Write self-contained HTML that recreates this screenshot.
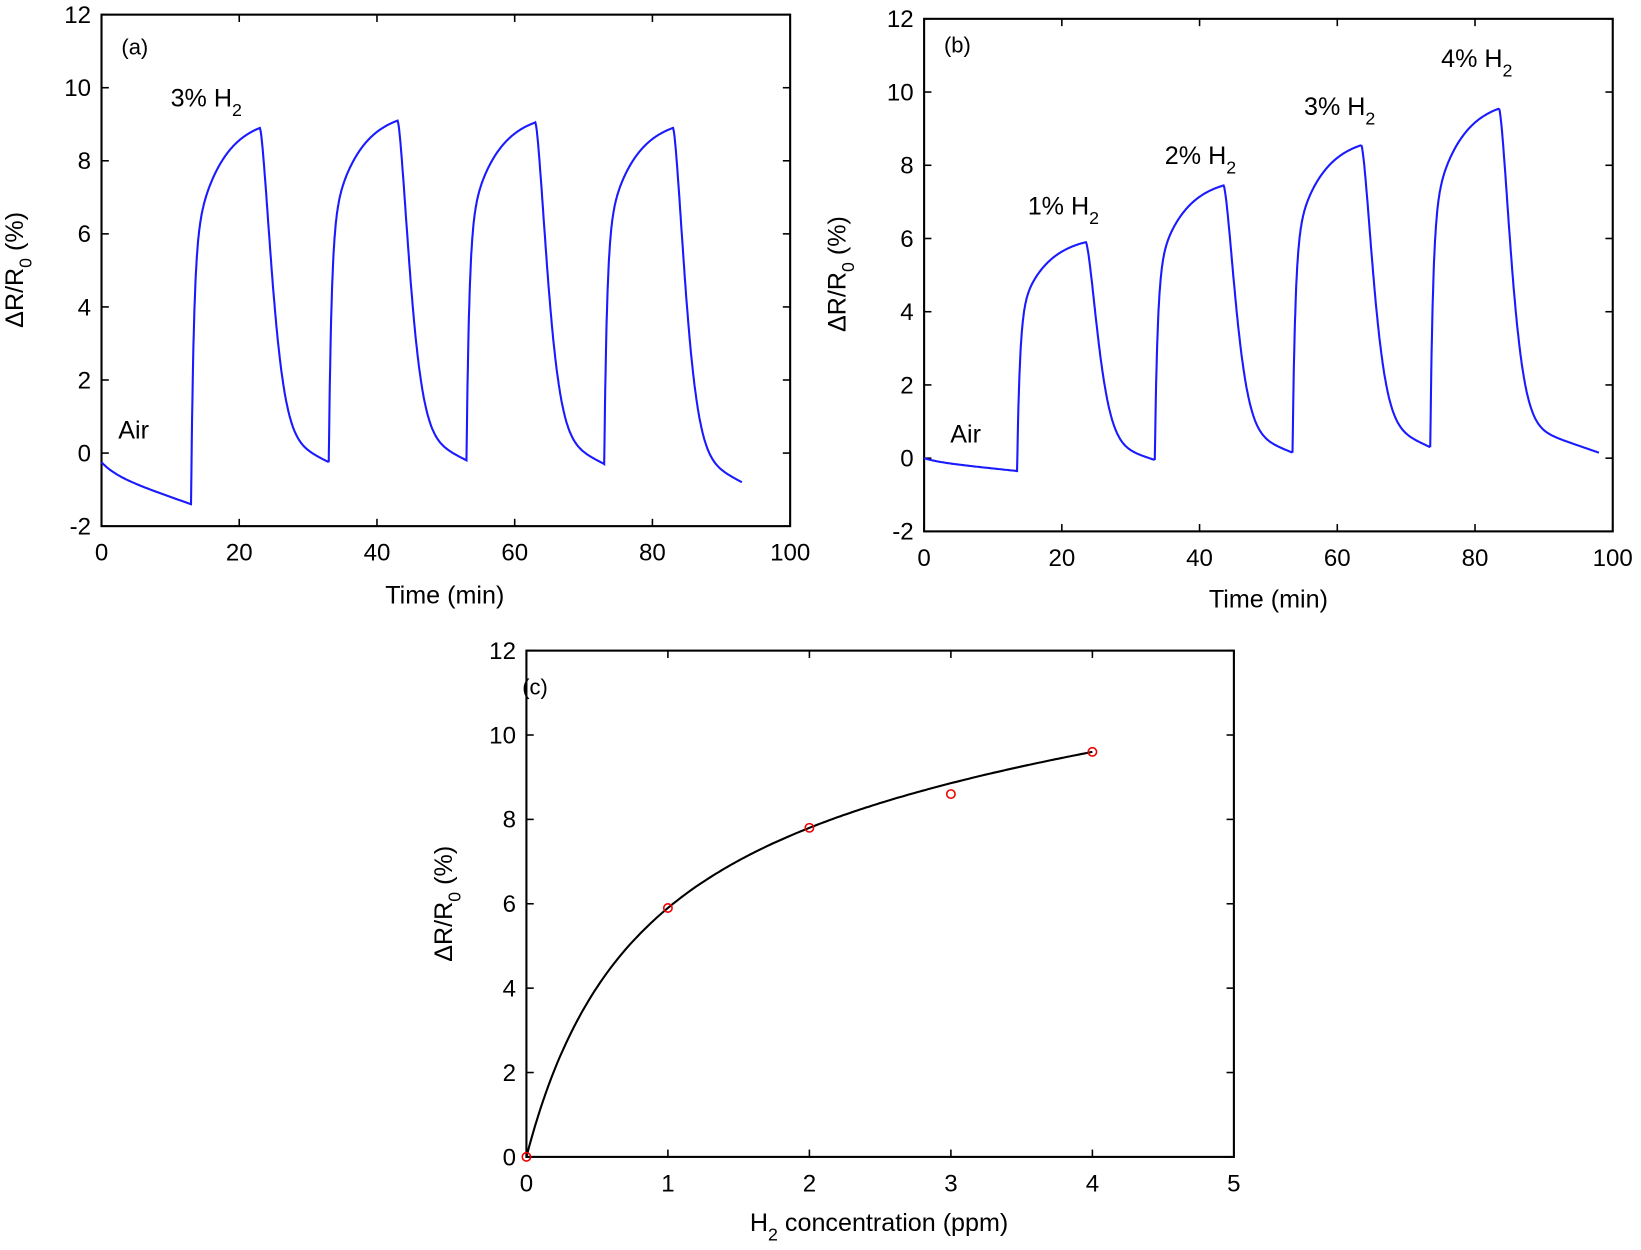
<!DOCTYPE html>
<html><head><meta charset="utf-8"><style>
html,body{margin:0;padding:0;background:#fff;}
svg{display:block;}
text{font-family:"Liberation Sans",Arial,sans-serif;fill:#000;}
</style></head><body>
<svg id="s" width="1641" height="1250" viewBox="0 0 1568 1195" preserveAspectRatio="none" xmlns="http://www.w3.org/2000/svg">
<rect width="1568" height="1195" fill="#fff"/>
<g id="g"></g>
</svg>
<script>
const NS="http://www.w3.org/2000/svg";const G=document.getElementById('g');
function el(t,a,txt){const e=document.createElementNS(NS,t);for(const k in a)e.setAttribute(k,a[k]);if(txt!==undefined)e.textContent=txt;G.appendChild(e);return e;}
function axes(L,R,T,B,xmin,xmax,xstep,ymin,ymax,ystep){
 el('rect',{x:L,y:T,width:R-L,height:B-T,fill:'none',stroke:'#000','stroke-width':2});
 const X=v=>L+(v-xmin)/(xmax-xmin)*(R-L), Y=v=>B-(v-ymin)/(ymax-ymin)*(B-T);
 for(let v=xmin;v<=xmax+1e-9;v+=xstep){const x=X(v);
  el('line',{x1:x,y1:B,x2:x,y2:B-7,stroke:'#000','stroke-width':1.5});
  el('line',{x1:x,y1:T,x2:x,y2:T+7,stroke:'#000','stroke-width':1.5});
  el('text',{x:x,y:B+33,'font-size':23,'text-anchor':'middle'},String(v));}
 for(let v=ymin;v<=ymax+1e-9;v+=ystep){const y=Y(v);
  el('line',{x1:L,y1:y,x2:L+7,y2:y,stroke:'#000','stroke-width':1.5});
  el('line',{x1:R,y1:y,x2:R-7,y2:y,stroke:'#000','stroke-width':1.5});
  el('text',{x:L-10,y:y+8,'font-size':23,'text-anchor':'end'},String(v));}
 return [X,Y];
}
function ylab(x,y){const t=el('text',{x:0,y:0,'font-size':24,'text-anchor':'middle',transform:`translate(${x},${y}) rotate(-90)`});
 t.innerHTML='ΔR/R<tspan dy="8" font-size="17">0</tspan><tspan dy="-8"> (%)</tspan>';}
function lab(x,y,s,sub){const t=el('text',{x:x,y:y,'font-size':24});t.innerHTML=s+(sub?'<tspan dy="9" font-size="17">'+sub+'</tspan>':'');}
function fr(s){return 1-0.65*Math.exp(-s/0.4)-0.35*Math.exp(-s/4);}
function trace(X,Y,start,cycles){
 let pts=[];let [t0,y0,t1,y1]=start;
 for(let t=t0;t<=t1;t+=0.25){const u=(t-t0)/(t1-t0);pts.push([t,y0+(y1-y0)*(0.75*u+0.25*(1-Math.exp(-u*6))/(1-Math.exp(-6)))]);}
 let base=y1,tb=t1;
 cycles.forEach(c=>{const [peak,tp,end,te]=c;const n=fr(tp-tb);
  for(let t=tb;t<=tp;t+=0.05)pts.push([t,base+(peak-base)*fr(t-tb)/n]);
  const d=te-tp;
  for(let t=tp;t<=te+1e-6;t+=0.1){const s=t-tp;const g=Math.exp(-Math.pow(s/2.4,1.5));
   pts.push([t,end+(peak-end)*(g*0.9+0.1*(1-s/d))]);}
  base=end;tb=te;});
 let d='';pts.forEach((p,i)=>{d+=(i?'L':'M')+X(p[0]).toFixed(1)+','+Y(p[1]).toFixed(1);});
 el('path',{d:d,fill:'none',stroke:'#1a1aff','stroke-width':2});
}
let [Xa,Ya]=axes(97,755,14,503,0,100,20,-2,12,2);
ylab(22,258);
el('text',{x:425,y:577,'font-size':24,'text-anchor':'middle'},'Time (min)');
el('text',{x:116,y:52,'font-size':21},'(a)');
lab(163,102,'3% H','2');lab(113,419,'Air');
trace(Xa,Ya,[0,-0.25,13,-1.4],[[8.9,23,-0.25,33],[9.1,43,-0.2,53],[9.05,63,-0.3,73],[8.9,83,-0.8,93]]);
let [Xb,Yb]=axes(883,1541,18,508,0,100,20,-2,12,2);
ylab(808,262);
el('text',{x:1212,y:581,'font-size':24,'text-anchor':'middle'},'Time (min)');
el('text',{x:902,y:50,'font-size':21},'(b)');
lab(982,205,'1% H','2');lab(1113,157,'2% H','2');lab(1246,110,'3% H','2');lab(1377,64,'4% H','2');lab(908,423,'Air');
trace(Xb,Yb,[0,0,13.5,-0.35],[[5.9,23.5,-0.05,33.5],[7.45,43.5,0.15,53.5],[8.55,63.5,0.3,73.5],[9.55,83.5,0.15,98]]);
let [Xc,Yc]=axes(503,1179,622,1106,0,5,1,0,12,2);
ylab(432,864);
{const t=el('text',{x:840,y:1177,'font-size':24,'text-anchor':'middle'});t.innerHTML='H<tspan dy="9" font-size="17">2</tspan><tspan dy="-9"> concentration (ppm)</tspan>';}
el('text',{x:499,y:664,'font-size':21},'(c)');
{let d='';for(let x=0;x<=4.0001;x+=0.02){const y=10.08*x/(0.8+x)+0.3*x;d+=(x?'L':'M')+Xc(x).toFixed(1)+','+Yc(y).toFixed(1);}
 el('path',{d:d,fill:'none',stroke:'#000','stroke-width':2});}
[[0,0],[1,5.9],[2,7.8],[3,8.6],[4,9.6]].forEach(p=>el('circle',{cx:Xc(p[0]),cy:Yc(p[1]),r:4,fill:'none',stroke:'#e00','stroke-width':1.5}));
</script>
</body></html>
